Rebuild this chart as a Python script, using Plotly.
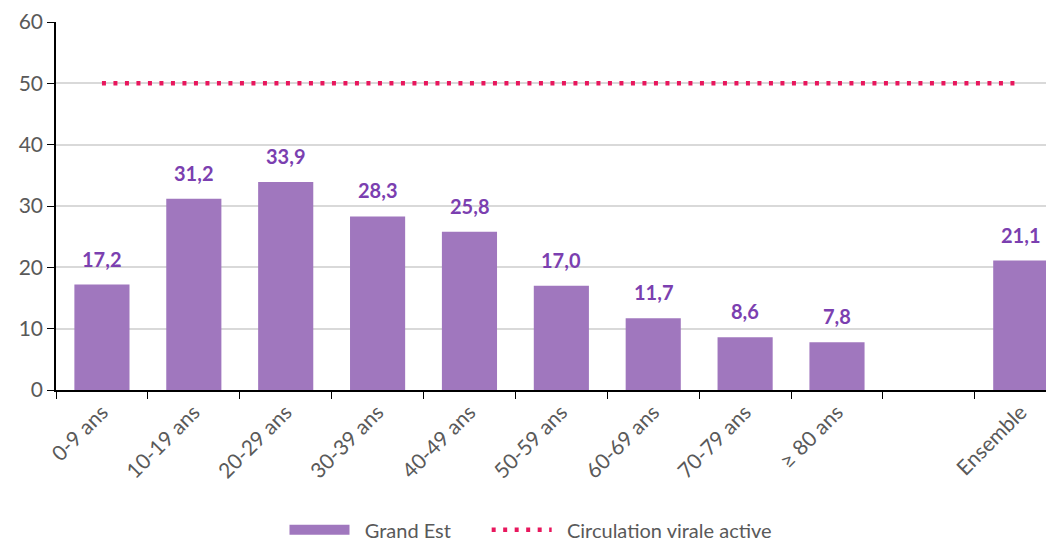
import plotly.graph_objects as go

# données
categories = ["0-9 ans", "10-19 ans", "20-29 ans", "30-39 ans", "40-49 ans",
              "50-59 ans", "60-69 ans", "70-79 ans", "≥ 80 ans", " ", "Ensemble"]
taux = [17.2, 31.2, 33.9, 28.3, 25.8, 17.0, 11.7, 8.6, 7.8, None, 21.1]
seuil = [50] * len(categories)

violet = "#A077BE"
nb = "\u00a0"

fig = go.Figure()

fig.add_trace(go.Bar(
    x=categories,
    y=taux,
    name="Grand Est",
    marker=dict(color=violet, line=dict(width=0)),
    width=0.6,
    showlegend=False,
))

# entrée de légende plus large pour la barre
fig.add_trace(go.Scatter(
    x=[None], y=[None],
    mode="lines",
    name=nb * 2 + "Grand Est" + nb * 6,
    line=dict(color=violet, width=12),
))

fig.add_trace(go.Scatter(
    x=categories,
    y=seuil,
    name=nb * 2 + "Circulation virale active",
    mode="lines",
    line=dict(color="#E8175D", width=4.5, dash="4px,7.5px"),
))

# étiquettes des valeurs
for c, v in zip(categories, taux):
    if v is None:
        continue
    fig.add_annotation(
        x=c, y=v,
        text="<b>" + f"{v:.1f}".replace(".", ",") + "</b>",
        showarrow=False,
        yanchor="bottom",
        yshift=12,
        font=dict(family="Lato", size=20, color="#7B3FB0"),
    )

fig.update_layout(
    width=1046,
    height=533,
    margin=dict(l=48, r=2, t=14, b=151, autoexpand=False),
    plot_bgcolor="white",
    paper_bgcolor="white",
    font=dict(family="Lato", size=20, color="#595959"),
    showlegend=True,
    legend=dict(
        orientation="h",
        x=0.5, xanchor="center", xref="container",
        y=-0.38, yanchor="middle", yref="paper",
        font=dict(size=20, color="#595959"),
        itemwidth=60,
        traceorder="normal",
    ),
)

fig.update_xaxes(
    type="category",
    range=[-0.5, 10.34],
    tickangle=-45,
    tickson="boundaries",
    ticks="outside",
    ticklen=7,
    tickcolor="black",
    showline=True,
    linecolor="black",
    linewidth=1.5,
    showgrid=False,
    automargin=False,
    tickfont=dict(size=21, color="#595959"),
)

fig.update_yaxes(
    range=[0, 60],
    dtick=10,
    ticks="outside",
    ticklen=7,
    tickcolor="black",
    showline=True,
    linecolor="black",
    linewidth=1.5,
    showgrid=True,
    gridcolor="#D9D9D9",
    gridwidth=1.5,
    zeroline=False,
    automargin=False,
    tickfont=dict(size=21, color="#595959"),
)

fig.write_html("out.html")
